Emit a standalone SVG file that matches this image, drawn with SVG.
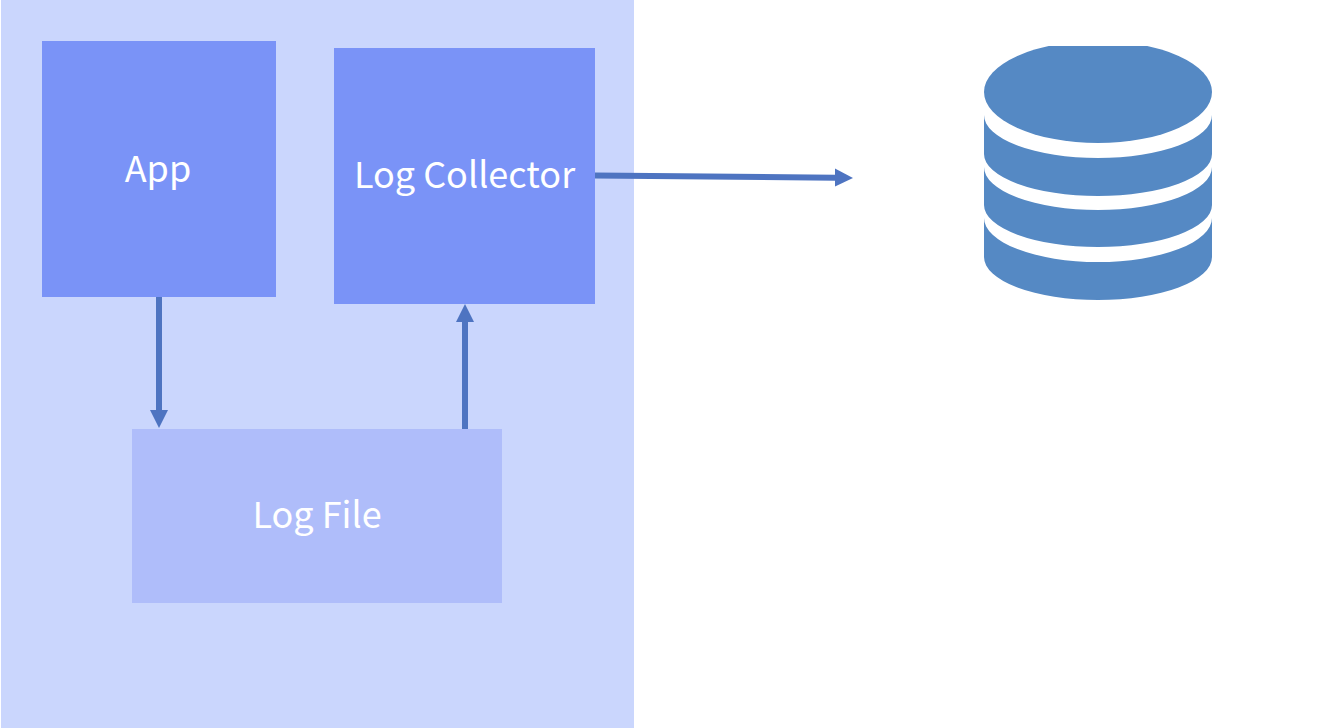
<svg xmlns="http://www.w3.org/2000/svg" width="1344" height="728" viewBox="0 0 1344 728">
<style>
.t{font-family:"Noto Sans CJK KR","Noto Sans",sans-serif;font-size:36px;fill:#fff;text-anchor:middle}
.c{fill:none;stroke:#4e74c1;stroke-width:6}
.h{fill:#4e74c1}
.i{fill:#5589c4}
</style>
<defs>
<clipPath id="ic"><rect x="980" y="46" width="240" height="256"/></clipPath>
</defs>
<rect width="1344" height="728" fill="#fff"/>
<g id="host"><rect x="1" y="0" width="633" height="728" fill="#cad6fd"/></g>
<g id="app"><rect x="42" y="41" width="234" height="256" fill="#7a93f7"/><text class="t" x="158" y="182">App</text></g>
<g id="collector"><rect x="334" y="48" width="261" height="256" fill="#7a93f7"/><text class="t" x="464.5" y="188">Log Collector</text></g>
<g id="logfile"><rect x="132" y="429" width="370" height="174" fill="#afbdfa"/><text class="t" x="317" y="528">Log File</text></g>
<g id="connectors">
<path class="c" d="M159 297V411"/><path class="h" d="M150 410H168L159 428Z"/>
<path class="c" d="M465 429V321"/><path class="h" d="M456 322H474L465 304Z"/>
<path class="c" d="M595 175.5L836 177.8"/><path class="h" d="M835 168.5V186.5L853 178Z"/>
</g>
<g id="database" clip-path="url(#ic)">
<ellipse class="i" cx="1098" cy="92" rx="114" ry="51"/>
<path class="i" d="M984 115A114 43 0 0 0 1212 115V154A114 42 0 0 1 984 154Z"/>
<path class="i" d="M984 167A114 43 0 0 0 1212 167V205A114 42 0 0 1 984 205Z"/>
<path class="i" d="M984 218A114 44 0 0 0 1212 218V257A114 43 0 0 1 984 257Z"/>
</g>
</svg>
